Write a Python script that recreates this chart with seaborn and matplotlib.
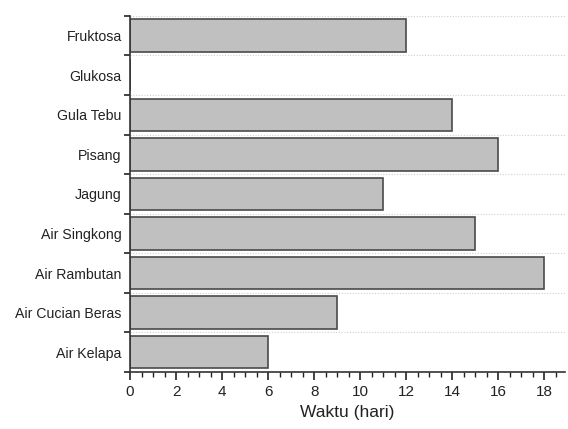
import matplotlib
matplotlib.use("Agg")
import matplotlib.pyplot as plt
import seaborn as sns
import pandas as pd
import numpy as np
from matplotlib.ticker import MultipleLocator, FixedLocator

categories = ["Fruktosa", "Glukosa", "Gula Tebu", "Pisang", "Jagung",
              "Air Singkong", "Air Rambutan", "Air Cucian Beras", "Air Kelapa"]
values = [12, 0, 14, 16, 11, 15, 18, 9, 6]

df = pd.DataFrame({"kategori": categories, "waktu": values})

sns.set_style("white")
plt.rcParams['font.family'] = ['Liberation Sans', 'DejaVu Sans']

fig = plt.figure(figsize=(5.68, 4.29), dpi=100)
ax = fig.add_axes([0.229, 0.133, 0.766, 0.830])

sns.barplot(data=df, x="waktu", y="kategori", order=categories, orient="h",
            color="#c0c0c0", edgecolor="#4a4a4a", linewidth=1.2,
            width=0.82, saturation=1, ax=ax)

ax.set_xlim(0, 18.9)
ax.set_ylim(len(categories) - 0.5, -0.5)
ax.xaxis.set_major_locator(MultipleLocator(2))
ax.xaxis.set_minor_locator(MultipleLocator(0.5))
ax.yaxis.set_minor_locator(FixedLocator(np.arange(-0.5, len(categories), 1.0)))

ax.tick_params(axis="x", which="major", direction="out", length=6, width=1.2,
               labelsize=11, colors="#222222", bottom=True)
ax.tick_params(axis="x", which="minor", direction="out", length=3.5, width=1,
               colors="#222222", bottom=True)
ax.tick_params(axis="y", which="major", length=0, labelsize=10.2, pad=6,
               colors="#222222")
ax.tick_params(axis="y", which="minor", direction="out", length=4, width=1.2,
               colors="#222222", left=True)

ax.grid(axis="y", which="minor", linestyle=(0, (1, 1.5)), color="#d0d0d0",
        linewidth=0.8)
ax.grid(axis="x", visible=False)
ax.set_axisbelow(True)

for s in ["top", "right"]:
    ax.spines[s].set_visible(False)
for s in ["left", "bottom"]:
    ax.spines[s].set_color("#333333")
    ax.spines[s].set_linewidth(1.2)

ax.set_ylabel("")
ax.set_xlabel("Waktu (hari)", fontsize=12.5, color="#222222", labelpad=4)

fig.savefig("out.png", dpi=100)
